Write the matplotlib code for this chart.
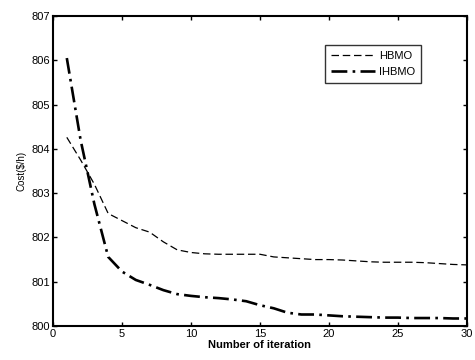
import matplotlib
matplotlib.use("Agg")
import matplotlib.pyplot as plt

iterations = list(range(1, 31))
hbmo = [804.26, 803.75, 803.2, 802.54, 802.38, 802.22, 802.12, 801.9, 801.72, 801.66,
        801.63, 801.62, 801.62, 801.62, 801.62, 801.56, 801.54, 801.52, 801.5, 801.5,
        801.49, 801.47, 801.45, 801.44, 801.44, 801.44, 801.43, 801.41, 801.39, 801.38]
ihbmo = [806.05, 804.2, 802.75, 801.56, 801.23, 801.04, 800.93, 800.81, 800.72, 800.68,
         800.65, 800.63, 800.6, 800.56, 800.47, 800.4, 800.3, 800.26, 800.26, 800.24,
         800.22, 800.21, 800.2, 800.19, 800.19, 800.18, 800.18, 800.18, 800.17, 800.17]
xticks = [0, 5, 10, 15, 20, 25, 30]
yticks = [800, 801, 802, 803, 804, 805, 806, 807]

plt.rcParams['font.family'] = ['Liberation Sans', 'DejaVu Sans']

fig = plt.figure(figsize=(4.75, 3.6), dpi=100)
ax = fig.add_axes([0.1116, 0.0944, 0.8714, 0.8612])

ax.plot(iterations, hbmo, color='black', linestyle=(0, (6, 3)), linewidth=0.9, label='HBMO')
ax.plot(iterations, ihbmo, color='black', linestyle=(0, (6, 2, 1, 2)), linewidth=1.9, label='IHBMO')

ax.set_xlim(0, 30)
ax.set_ylim(800, 807)
ax.set_xticks(xticks)
ax.set_yticks(yticks)
ax.tick_params(direction='in', length=3, width=1, labelsize=8, top=True, right=True, pad=2)
for s in ax.spines.values():
    s.set_linewidth(1.5)

ax.set_xlabel('Number of iteration', fontsize=8, fontweight='bold', labelpad=1)
ax.set_ylabel('Cost($/h)', fontsize=7, labelpad=4)

leg = ax.legend(loc='upper right', bbox_to_anchor=(0.889, 0.908), fontsize=8,
                frameon=True, fancybox=False, edgecolor='black', handlelength=4.0,
                borderpad=0.55, labelspacing=0.55, handletextpad=0.3, borderaxespad=0)
leg.get_frame().set_linewidth(1.0)

fig.savefig('out.png', dpi=100)
